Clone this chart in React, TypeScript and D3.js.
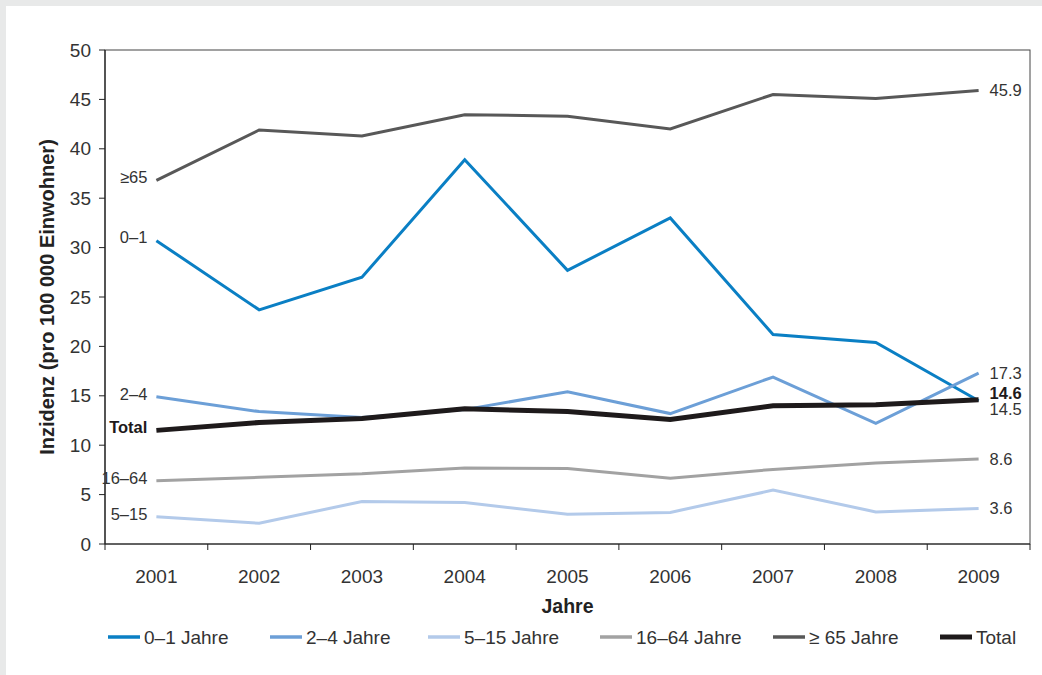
import React, { useRef, useEffect } from 'react';
import * as D3 from 'd3';

const years = ['2001', '2002', '2003', '2004', '2005', '2006', '2007', '2008', '2009'];
const yTicks = [0, 5, 10, 15, 20, 25, 30, 35, 40, 45, 50];

const age0to1 = [30.7, 23.7, 27.0, 38.9, 27.7, 33.0, 21.2, 20.4, 14.5];
const age2to4 = [14.9, 13.4, 12.8, 13.6, 15.4, 13.2, 16.9, 12.2, 17.3];
const age5to15 = [2.75, 2.1, 4.3, 4.2, 3.0, 3.2, 5.45, 3.25, 3.6];
const age16to64 = [6.4, 6.75, 7.1, 7.7, 7.65, 6.65, 7.55, 8.2, 8.6];
const age65plus = [36.8, 41.9, 41.3, 43.45, 43.3, 42.0, 45.5, 45.1, 45.9];
const total = [11.5, 12.3, 12.7, 13.7, 13.4, 12.6, 14.0, 14.1, 14.6];

const series = [
    { key: '0–1', legend: '0–1 Jahre', values: age0to1, color: '#0a7fc4', width: 3, endLabel: '14.5', endDy: 8, bold: false },
    { key: '2–4', legend: '2–4 Jahre', values: age2to4, color: '#6c9fd7', width: 3, endLabel: '17.3', endDy: 0, bold: false },
    { key: '5–15', legend: '5–15 Jahre', values: age5to15, color: '#b3caea', width: 3, endLabel: '3.6', endDy: 0, bold: false },
    { key: '16–64', legend: '16–64 Jahre', values: age16to64, color: '#a2a2a2', width: 3, endLabel: '8.6', endDy: 0, bold: false },
    { key: '≥65', legend: '≥ 65 Jahre', values: age65plus, color: '#585858', width: 3, endLabel: '45.9', endDy: 0, bold: false },
    { key: 'Total', legend: 'Total', values: total, color: '#1e1a1b', width: 5, endLabel: '14.6', endDy: -7, bold: true },
];

// legend x positions
const legendX = [108, 270, 428, 600, 773, 940];

const W = 1042;
const H = 675;
const M = { left: 105, right: 1030, top: 50, bottom: 544 };
const FONT = '"Liberation Sans", Arial, sans-serif';

export default function App() {
    const svgRef = useRef<SVGSVGElement>(null);

    useEffect(() => {
        if (!svgRef.current) return;
        const svg = D3.select(svgRef.current);
        svg.selectAll('*').remove();

        // background + panel
        svg.append('rect').attr('width', W).attr('height', H).attr('fill', '#e8e9e9');
        svg.append('rect').attr('x', 6).attr('y', 6).attr('width', W - 6).attr('height', H - 6).attr('fill', '#fff');

        const xScale = D3.scaleBand<string>().domain(years).range([M.left, M.right]);
        const yScale = D3.scaleLinear().domain([0, 50]).range([M.bottom, M.top]);
        const cx = (i: number) => (xScale(years[i]) as number) + xScale.bandwidth() / 2;

        // plot frame
        svg.append('rect')
            .attr('x', M.left).attr('y', M.top)
            .attr('width', M.right - M.left).attr('height', M.bottom - M.top)
            .attr('fill', 'none').attr('stroke', '#444').attr('stroke-width', 1);

        // Y axis
        const gy = svg.append('g').attr('transform', `translate(${M.left},0)`);
        gy.append('line').attr('x1', 0).attr('x2', 0).attr('y1', M.top).attr('y2', M.bottom)
            .attr('stroke', '#222').attr('stroke-width', 1.2);
        yTicks.forEach(t => {
            gy.append('line').attr('x1', -6).attr('x2', 0).attr('y1', yScale(t)).attr('y2', yScale(t))
                .attr('stroke', '#222').attr('stroke-width', 1);
            gy.append('text').attr('x', -14).attr('y', yScale(t)).attr('dy', '0.35em')
                .attr('text-anchor', 'end').attr('font-family', FONT).attr('font-size', 19)
                .attr('fill', '#333').text(String(t));
        });

        // X axis
        const gx = svg.append('g').attr('transform', `translate(0,${M.bottom})`);
        gx.append('line').attr('x1', M.left).attr('x2', M.right).attr('y1', 0).attr('y2', 0)
            .attr('stroke', '#222').attr('stroke-width', 1.2);
        const bounds = years.map(y => xScale(y) as number).concat([M.right]);
        bounds.forEach(b => {
            gx.append('line').attr('x1', b).attr('x2', b).attr('y1', 0).attr('y2', 6)
                .attr('stroke', '#222').attr('stroke-width', 1);
        });
        years.forEach((y, i) => {
            gx.append('text').attr('x', cx(i)).attr('y', 39)
                .attr('text-anchor', 'middle').attr('font-family', FONT).attr('font-size', 19)
                .attr('fill', '#333').text(y);
        });

        // axis titles
        svg.append('text').attr('x', (M.left + M.right) / 2).attr('y', 613)
            .attr('text-anchor', 'middle').attr('font-family', FONT).attr('font-size', 19.5)
            .attr('font-weight', 'bold').attr('fill', '#222').text('Jahre');
        svg.append('text')
            .attr('transform', `translate(54,${(M.top + M.bottom) / 2}) rotate(-90)`)
            .attr('text-anchor', 'middle').attr('font-family', FONT).attr('font-size', 20)
            .attr('font-weight', 'bold').attr('fill', '#222').text('Inzidenz (pro 100 000 Einwohner)');

        // lines
        const line = D3.line<number>().x((_, i) => cx(i)).y(d => yScale(d));
        series.forEach(s => {
            svg.append('path').datum(s.values).attr('d', line)
                .attr('fill', 'none').attr('stroke', s.color).attr('stroke-width', s.width)
                .attr('stroke-linejoin', 'miter');
        });

        // start labels
        series.forEach(s => {
            svg.append('text').attr('x', cx(0) - 9).attr('y', yScale(s.values[0]) - 3).attr('dy', '0.35em')
                .attr('text-anchor', 'end').attr('font-family', FONT).attr('font-size', 16.5)
                .attr('font-weight', s.bold ? 'bold' : 'normal').attr('fill', s.bold ? '#1e1a1b' : '#333')
                .text(s.key);
        });

        // end labels
        const last = years.length - 1;
        series.forEach(s => {
            svg.append('text').attr('x', cx(last) + 11).attr('y', yScale(s.values[last]) + s.endDy).attr('dy', '0.35em')
                .attr('font-family', FONT).attr('font-size', 16.5)
                .attr('font-weight', s.bold ? 'bold' : 'normal').attr('fill', s.bold ? '#1e1a1b' : '#333')
                .text(s.endLabel);
        });

        // legend
        const ly = 637;
        series.forEach((s, i) => {
            const x = legendX[i];
            svg.append('line').attr('x1', x).attr('x2', x + 32).attr('y1', ly).attr('y2', ly)
                .attr('stroke', s.color).attr('stroke-width', s.width === 5 ? 5 : 3.5);
            svg.append('text').attr('x', x + 36).attr('y', ly).attr('dy', '0.35em')
                .attr('font-family', FONT).attr('font-size', 19).attr('fill', '#333')
                .text(s.legend);
        });
    }, []);

    return (
        <svg ref={svgRef} width={W} height={H} style={{ position: 'absolute', left: 0, top: 0 }} />
    );
}
